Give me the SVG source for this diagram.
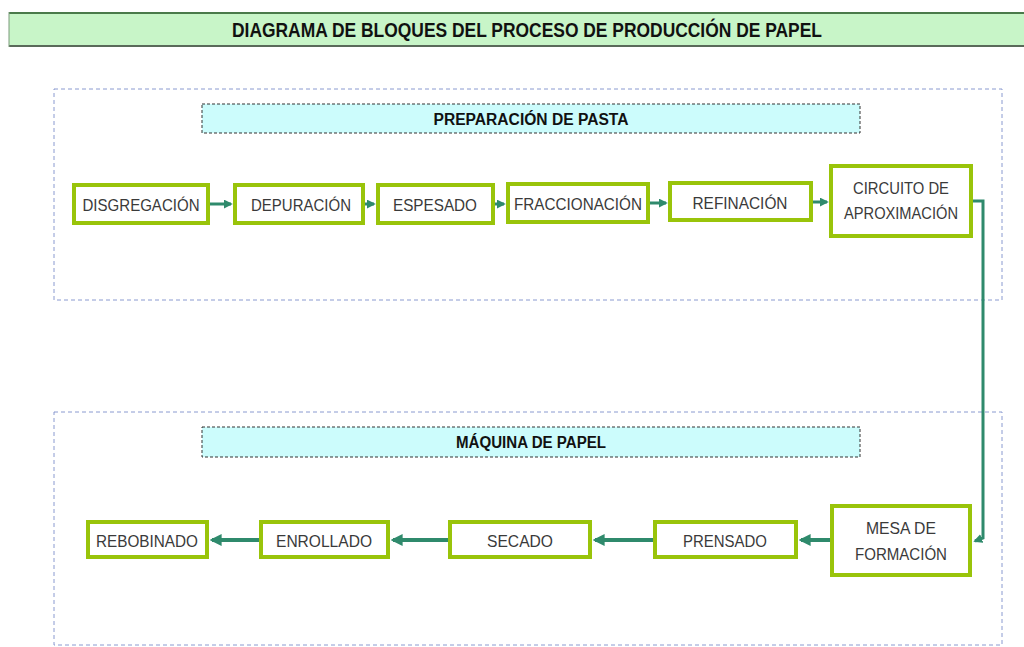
<svg xmlns="http://www.w3.org/2000/svg" width="1024" height="647" viewBox="0 0 1024 647">
<style>
.node rect{fill:#ffffff;stroke:#99c40a;stroke-width:4}
.node text{font-family:"Liberation Sans",Arial,sans-serif;font-size:17px;fill:#3a3a3a;text-anchor:middle}
.hdr rect{fill:#ccfcfc;stroke:#333;stroke-width:1;stroke-dasharray:3 2}
.hdr text{font-family:"Liberation Sans",Arial,sans-serif;font-size:16px;font-weight:bold;fill:#111;text-anchor:middle}
.grp{fill:none;stroke:#8a9ad0;stroke-width:1;stroke-dasharray:4 3}
.conn path{fill:none;stroke:#2f8a6c;stroke-width:3}
.conn path.thick{stroke-width:4}
</style>
<defs>
<marker id="ah" viewBox="0 0 10 10" refX="8" refY="5" markerWidth="3" markerHeight="3" orient="auto">
<path d="M0,0 L10,5 L0,10 z" fill="#2f8a6c"/>
</marker>
</defs>
<rect width="1024" height="647" fill="#ffffff"/>
<g id="title">
<rect x="9" y="12" width="1020" height="35" fill="#c8f5c8"/>
<line x1="9" y1="13" x2="1024" y2="13" stroke="#4a7a4a" stroke-width="2"/>
<line x1="9" y1="46" x2="1024" y2="46" stroke="#5a6a5a" stroke-width="2"/>
<line x1="9" y1="12" x2="9" y2="47" stroke="#7a9a7a" stroke-width="1"/>
<text x="527" y="37" font-family="'Liberation Sans',Arial,sans-serif" font-size="20" font-weight="bold" fill="#111" text-anchor="middle" textLength="590" lengthAdjust="spacingAndGlyphs">DIAGRAMA DE BLOQUES DEL PROCESO DE PRODUCCIÓN DE PAPEL</text>
</g>
<rect id="grp-pasta" class="grp" x="54" y="89" width="948" height="211"/>
<rect id="grp-maquina" class="grp" x="54" y="412" width="948" height="233"/>
<g id="hdr-pasta" class="hdr">
<rect x="202" y="104" width="658" height="29"/>
<text x="531" y="125" textLength="195" lengthAdjust="spacingAndGlyphs">PREPARACIÓN DE PASTA</text>
</g>
<g id="hdr-maquina" class="hdr">
<rect x="202" y="427" width="658" height="30"/>
<text x="531" y="448" textLength="150" lengthAdjust="spacingAndGlyphs">MÁQUINA DE PAPEL</text>
</g>
<g class="conn" id="connectors">
<path d="M208,204 H231" marker-end="url(#ah)"/>
<path d="M363,204 H374" marker-end="url(#ah)"/>
<path d="M493,204 H504" marker-end="url(#ah)"/>
<path d="M648,203 H666" marker-end="url(#ah)"/>
<path d="M811,202 H827" marker-end="url(#ah)"/>
<path d="M971,201 H983 V538 L975,541" marker-end="url(#ah)"/>
<path class="thick" d="M832,540 H801" marker-end="url(#ah)"/>
<path class="thick" d="M655,540 H595" marker-end="url(#ah)"/>
<path class="thick" d="M450,540 H393" marker-end="url(#ah)"/>
<path class="thick" d="M261,540 H212" marker-end="url(#ah)"/>
</g>
<g id="n-disgregacion" class="node"><rect x="74" y="185" width="134" height="38"/><text x="141" y="211" textLength="117" lengthAdjust="spacingAndGlyphs">DISGREGACIÓN</text></g>
<g id="n-depuracion" class="node"><rect x="235" y="185" width="128" height="38"/><text x="301" y="211" textLength="100" lengthAdjust="spacingAndGlyphs">DEPURACIÓN</text></g>
<g id="n-espesado" class="node"><rect x="378" y="185" width="115" height="38"/><text x="435" y="211" textLength="84" lengthAdjust="spacingAndGlyphs">ESPESADO</text></g>
<g id="n-fraccionacion" class="node"><rect x="508" y="184" width="140" height="38"/><text x="578" y="210" textLength="128" lengthAdjust="spacingAndGlyphs">FRACCIONACIÓN</text></g>
<g id="n-refinacion" class="node"><rect x="670" y="183" width="141" height="37"/><text x="740" y="209" textLength="95" lengthAdjust="spacingAndGlyphs">REFINACIÓN</text></g>
<g id="n-circuito" class="node"><rect x="831" y="166" width="140" height="70"/><text x="901" y="194" textLength="96" lengthAdjust="spacingAndGlyphs">CIRCUITO DE</text><text x="901" y="219" textLength="114" lengthAdjust="spacingAndGlyphs">APROXIMACIÓN</text></g>
<g id="n-mesa" class="node"><rect x="832" y="506" width="138" height="69"/><text x="901" y="534" textLength="70" lengthAdjust="spacingAndGlyphs">MESA DE</text><text x="901" y="560" textLength="92" lengthAdjust="spacingAndGlyphs">FORMACIÓN</text></g>
<g id="n-prensado" class="node"><rect x="655" y="522" width="141" height="35"/><text x="725" y="547" textLength="84" lengthAdjust="spacingAndGlyphs">PRENSADO</text></g>
<g id="n-secado" class="node"><rect x="450" y="522" width="140" height="35"/><text x="520" y="547" textLength="66" lengthAdjust="spacingAndGlyphs">SECADO</text></g>
<g id="n-enrollado" class="node"><rect x="261" y="522" width="127" height="35"/><text x="324" y="547" textLength="96" lengthAdjust="spacingAndGlyphs">ENROLLADO</text></g>
<g id="n-rebobinado" class="node"><rect x="88" y="522" width="119" height="35"/><text x="147" y="547" textLength="102" lengthAdjust="spacingAndGlyphs">REBOBINADO</text></g>
</svg>
